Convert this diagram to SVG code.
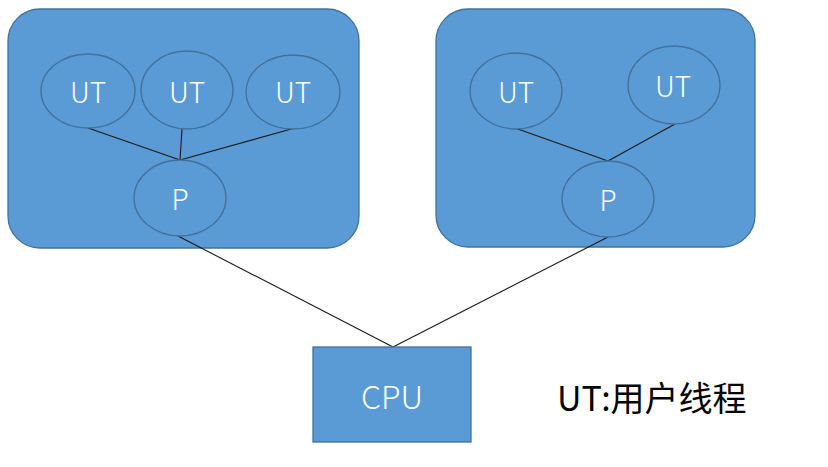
<svg xmlns="http://www.w3.org/2000/svg" width="828" height="467" viewBox="0 0 828 467">
<style>
.box{fill:#5B9BD5;stroke:#41719C;stroke-width:1.3}
.lbl{fill:#ffffff;font-family:"Noto Sans CJK SC","Open Sans","Liberation Sans",sans-serif;font-weight:300;font-size:28px;text-anchor:middle}
.cn{stroke:#1a1a1a;stroke-width:1.1;fill:none}
</style>
<rect width="828" height="467" fill="#ffffff"/>
<g id="group-left"><rect class="box" x="8" y="9" width="351" height="239" rx="32"/></g>
<g id="group-right"><rect class="box" x="436" y="9" width="319" height="238" rx="32"/></g>
<g id="connectors">
<line class="cn" x1="88" y1="128" x2="180" y2="160"/>
<line class="cn" x1="182" y1="129" x2="180" y2="160"/>
<line class="cn" x1="295" y1="128" x2="180" y2="160"/>
<line class="cn" x1="515" y1="128" x2="608" y2="161"/>
<line class="cn" x1="675" y1="124" x2="608" y2="161"/>
<line class="cn" x1="178" y1="236" x2="393" y2="347"/>
<line class="cn" x1="608" y1="237" x2="393" y2="347"/>
</g>
<g id="ut-l1"><ellipse class="box" cx="88" cy="91" rx="47" ry="37"/><text class="lbl" x="88" y="103">UT</text></g>
<g id="ut-l2"><ellipse class="box" cx="187" cy="90" rx="46" ry="39"/><text class="lbl" x="187" y="103">UT</text></g>
<g id="ut-l3"><ellipse class="box" cx="293" cy="92" rx="47" ry="37"/><text class="lbl" x="293" y="103">UT</text></g>
<g id="p-left"><ellipse class="box" cx="180" cy="198" rx="46" ry="38"/><text class="lbl" x="180" y="210">P</text></g>
<g id="ut-r1"><ellipse class="box" cx="516" cy="91" rx="46" ry="38"/><text class="lbl" x="516" y="103">UT</text></g>
<g id="ut-r2"><ellipse class="box" cx="674" cy="85" rx="46" ry="39"/><text class="lbl" x="673" y="97">UT</text></g>
<g id="p-right"><ellipse class="box" cx="608" cy="199" rx="46" ry="38"/><text class="lbl" x="608" y="211">P</text></g>
<g id="cpu"><rect class="box" x="313" y="347" width="158" height="95"/><text class="lbl" x="392" y="409" style="font-size:32px">CPU</text></g>
<g id="legend"><text x="557" y="411" style="font-family:'Noto Sans CJK SC','Liberation Sans',sans-serif;font-size:34px;fill:#000000">UT:用户线程</text></g>
</svg>
